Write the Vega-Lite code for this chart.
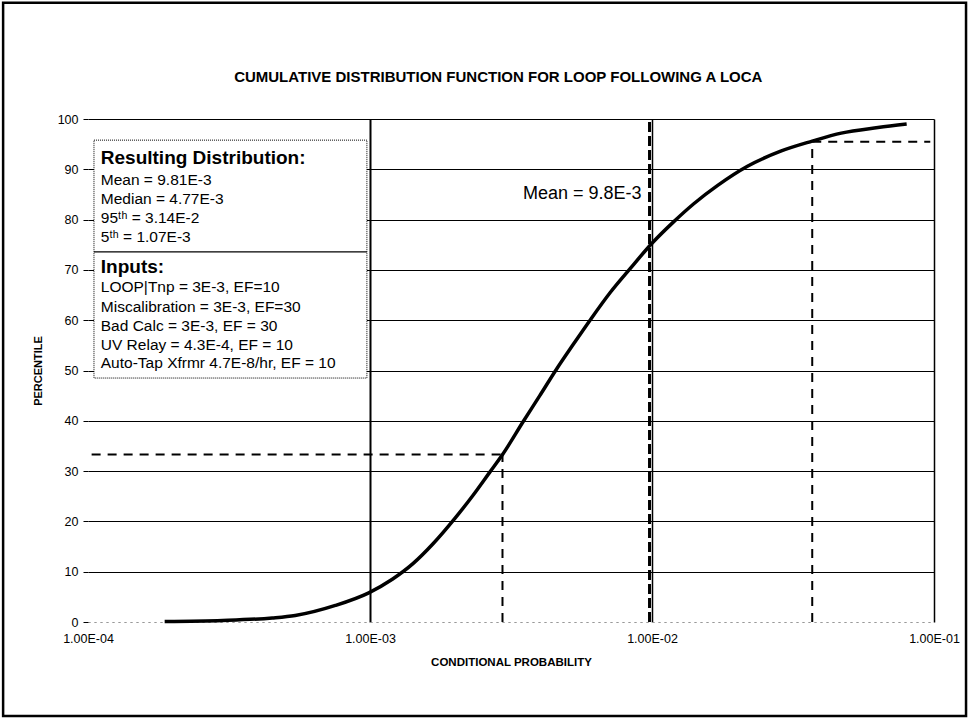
{
  "$schema": "https://vega.github.io/schema/vega-lite/v6.json",
  "width": 846,
  "height": 503,
  "autosize": {"type": "none"},
  "padding": {"left": 88, "top": 119, "right": 38, "bottom": 101},
  "background": "white",
  "config": {
    "view": {"stroke": null},
    "axis": {"labelFont": "Liberation Sans", "titleFont": "Liberation Sans", "labelColor": "black", "titleColor": "black"}
  },
  "datasets": {
    "curve": [
      {"x": 0.000187, "p": 0.1},
      {"x": 0.0003, "p": 0.3},
      {"x": 0.00045, "p": 0.8},
      {"x": 0.000543, "p": 1.3},
      {"x": 0.000754, "p": 3.3},
      {"x": 0.00099, "p": 5.8},
      {"x": 0.0012, "p": 8.5},
      {"x": 0.00142, "p": 11.6},
      {"x": 0.00167, "p": 15.5},
      {"x": 0.002, "p": 20.6},
      {"x": 0.00232, "p": 25.2},
      {"x": 0.00266, "p": 29.8},
      {"x": 0.00296, "p": 33.4},
      {"x": 0.00349, "p": 39.8},
      {"x": 0.004, "p": 45.0},
      {"x": 0.00459, "p": 50.3},
      {"x": 0.00526, "p": 55.2},
      {"x": 0.00603, "p": 60.0},
      {"x": 0.00711, "p": 65.5},
      {"x": 0.00838, "p": 70.3},
      {"x": 0.01, "p": 75.3},
      {"x": 0.0119, "p": 79.5},
      {"x": 0.0141, "p": 83.2},
      {"x": 0.0171, "p": 86.8},
      {"x": 0.0218, "p": 90.6},
      {"x": 0.0286, "p": 93.6},
      {"x": 0.037, "p": 95.6},
      {"x": 0.0469, "p": 97.2},
      {"x": 0.0633, "p": 98.3},
      {"x": 0.08, "p": 99.0}
    ],
    "dashes": [
      {"x": 0.000103, "x2": 0.00295, "p": 33.3, "p2": 33.3},
      {"x": 0.00295, "x2": 0.00295, "p": 0, "p2": 33.3},
      {"x": 0.037, "x2": 0.037, "p": 0, "p2": 95.5},
      {"x": 0.037, "x2": 0.097, "p": 95.5, "p2": 95.5}
    ],
    "mean": [
      {"x": 0.0098, "x2": 0.0098, "p": 0, "p2": 100}
    ],
    "meanlabel": [
      {"x": 0.0098, "p": 85, "label": "Mean = 9.8E-3"}
    ],
    "box": [
      {"x": 0.000105, "x2": 0.000975, "p": 48.5, "p2": 95.8}
    ],
    "divider": [
      {"x": 0.000105, "x2": 0.000975, "p": 73.6, "p2": 73.6}
    ],
    "frame": [
      {"x": 0.0000500, "x2": 0.1299, "p": -18.7, "p2": 123.1}
    ],
    "title": [
      {"x": 0.00285, "p": 108.3, "label": "CUMULATIVE DISTRIBUTION FUNCTION FOR LOOP FOLLOWING A LOCA"}
    ],
    "headers": [
      {"x": 0.000111, "p": 92.2, "label": "Resulting Distribution:"},
      {"x": 0.000111, "p": 70.6, "label": "Inputs:"}
    ],
    "lines": [
      {"x": 0.000111, "p": 87.9, "label": "Mean = 9.81E-3"},
      {"x": 0.000111, "p": 84.1, "label": "Median = 4.77E-3"},
      {"x": 0.000111, "p": 80.3, "label": "95ᵗʰ = 3.14E-2"},
      {"x": 0.000111, "p": 76.5, "label": "5ᵗʰ = 1.07E-3"},
      {"x": 0.000111, "p": 66.6, "label": "LOOP|Tnp = 3E-3, EF=10"},
      {"x": 0.000111, "p": 62.6, "label": "Miscalibration = 3E-3, EF=30"},
      {"x": 0.000111, "p": 58.8, "label": "Bad Calc = 3E-3, EF = 30"},
      {"x": 0.000111, "p": 55.1, "label": "UV Relay = 4.3E-4, EF = 10"},
      {"x": 0.000111, "p": 51.5, "label": "Auto-Tap Xfrmr 4.7E-8/hr, EF = 10"}
    ]
  },
  "encoding": {
    "x": {
      "field": "x",
      "type": "quantitative",
      "scale": {"type": "log", "domain": [0.0001, 0.1], "nice": false},
      "axis": {
        "title": "CONDITIONAL PROBABILITY",
        "titleFontSize": 11.5,
        "titleFontWeight": "bold",
        "titlePadding": 12,
        "values": [0.0001, 0.001, 0.01, 0.1],
        "labelExpr": "'1.00E-0' + round(-log(datum.value)/LN10)",
        "labelFontSize": 12.5,
        "labelPadding": 10,
        "labelFlush": false,
        "labelOverlap": false,
        "ticks": false,
        "domain": true,
        "domainColor": "#999999",
        "domainDash": [2, 4],
        "domainWidth": 1,
        "grid": true,
        "gridColor": "black",
        "gridOpacity": {"condition": {"test": "datum.value < 0.0005", "value": 0}, "value": 1},
        "gridWidth": {"condition": {"test": "datum.value < 0.005", "value": 2}, "value": 1.5}
      }
    },
    "y": {
      "field": "p",
      "type": "quantitative",
      "scale": {"domain": [0, 100], "nice": false},
      "axis": {
        "title": "PERCENTILE",
        "titleFontSize": 11,
        "titleFontWeight": "bold",
        "titlePadding": 14,
        "values": [0, 10, 20, 30, 40, 50, 60, 70, 80, 90, 100],
        "labelFontSize": 12.5,
        "labelPadding": 5,
        "ticks": true,
        "tickSize": 5,
        "tickColor": "black",
        "domain": false,
        "grid": true,
        "gridColor": {"condition": {"test": "datum.value === 0", "value": "#aaaaaa"}, "value": "black"},
        "gridDash": {"condition": {"test": "datum.value === 0", "value": [2, 4]}, "value": []},
        "gridWidth": 1
      }
    }
  },
  "layer": [
    {
      "data": {"name": "frame"},
      "mark": {"type": "rect", "fill": null, "stroke": "black", "strokeWidth": 2.5, "clip": false},
      "encoding": {"x2": {"field": "x2"}, "y2": {"field": "p2"}}
    },
    {
      "data": {"name": "title"},
      "mark": {"type": "text", "align": "center", "baseline": "middle", "font": "Liberation Sans", "fontSize": 15, "fontWeight": "bold", "color": "black"},
      "encoding": {"text": {"field": "label"}}
    },
    {
      "data": {"name": "box"},
      "mark": {"type": "rect", "fill": "white", "stroke": "black", "strokeWidth": 1, "strokeDash": [1, 1]},
      "encoding": {"x2": {"field": "x2"}, "y2": {"field": "p2"}}
    },
    {
      "data": {"name": "divider"},
      "mark": {"type": "rule", "color": "black", "strokeWidth": 1.2},
      "encoding": {"x2": {"field": "x2"}, "y2": {"field": "p2"}}
    },
    {
      "data": {"name": "headers"},
      "mark": {"type": "text", "align": "left", "baseline": "middle", "font": "Liberation Sans", "fontSize": 19, "fontWeight": "bold", "color": "black"},
      "encoding": {"text": {"field": "label"}}
    },
    {
      "data": {"name": "lines"},
      "mark": {"type": "text", "align": "left", "baseline": "middle", "font": "Liberation Sans", "fontSize": 15.5, "color": "black"},
      "encoding": {"text": {"field": "label"}}
    },
    {
      "data": {"name": "dashes"},
      "mark": {"type": "rule", "color": "black", "strokeWidth": 2, "strokeDash": [9, 7]},
      "encoding": {"x2": {"field": "x2"}, "y2": {"field": "p2"}}
    },
    {
      "data": {"name": "mean"},
      "mark": {"type": "rule", "color": "black", "strokeWidth": 3, "strokeDash": [10, 4]},
      "encoding": {"x2": {"field": "x2"}, "y2": {"field": "p2"}}
    },
    {
      "data": {"name": "meanlabel"},
      "mark": {"type": "text", "align": "right", "baseline": "middle", "dx": -8, "font": "Liberation Sans", "fontSize": 18, "color": "black"},
      "encoding": {"text": {"field": "label"}}
    },
    {
      "data": {"name": "curve"},
      "mark": {"type": "line", "color": "black", "strokeWidth": 3.5, "interpolate": "monotone"},
      "encoding": {}
    }
  ]
}
